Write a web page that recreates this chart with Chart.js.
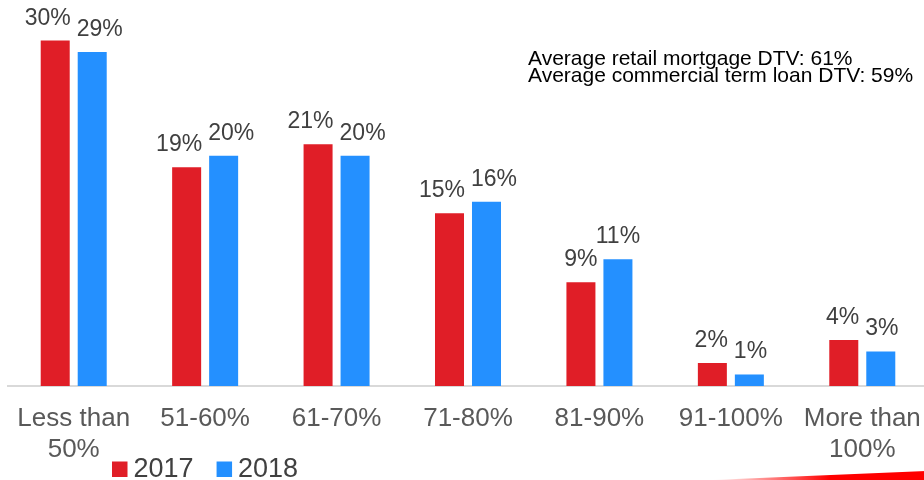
<!DOCTYPE html>
<html>
<head>
<meta charset="utf-8">
<title>DTV distribution</title>
<script src="https://cdn.jsdelivr.net/npm/chart.js@4/dist/chart.umd.min.js"></script>
<style>
  html, body { margin: 0; padding: 0; background: #fff; overflow: hidden; }
  #wrap { position: relative; width: 930px; height: 480px; }
</style>
</head>
<body>
<div id="wrap"><canvas id="dtvChart" width="930" height="480"></canvas></div>
<script>
// DTV buckets and share of the book per year
const categories = [['Less than', '50%'], '51-60%', '61-70%', '71-80%', '81-90%', '91-100%', ['More than', '100%']];
const seriesNames = ['2017', '2018'];
const values2017 = [30, 19, 21, 15, 9, 2, 4];
const values2018 = [29, 20, 20, 16, 11, 1, 3];
const noteLines = ['Average retail mortgage DTV: 61%', 'Average commercial term loan DTV: 59%'];

const FONT = '"Liberation Sans", Arial, Helvetica, sans-serif';
const RED = '#E01E27';
const BLUE = '#2490FF';

// value labels above each bar, nudged apart when the pair would collide
const barLabels = {
    id: 'barLabels',
    afterDatasetsDraw(chart, args, opts) {
        const ctx = chart.ctx;
        ctx.save();
        ctx.font = opts.size + 'px ' + FONT;
        ctx.fillStyle = opts.color;
        ctx.textAlign = 'center';
        ctx.textBaseline = 'alphabetic';
        const metas = chart.data.datasets.map((d, i) => chart.getDatasetMeta(i));
        chart.data.labels.forEach((label, idx) => {
            const items = metas.map((meta, di) => {
                const bar = meta.data[idx];
                const text = chart.data.datasets[di].data[idx] + '%';
                return { text, x: bar.x, y: bar.y - opts.offset, w: ctx.measureText(text).width };
            });
            const [a, b] = items;
            const need = (a.w + b.w) / 2 + opts.gap;
            const overlapV = Math.abs(a.y - b.y) < opts.textHeight;
            if (b.x - a.x < need && overlapV) {
                const push = (need - (b.x - a.x)) / 2;
                a.x -= push;
                b.x += push;
            }
            items.forEach(it => ctx.fillText(it.text, it.x, it.y));
        });
        ctx.restore();
    }
};

// square swatch legend placed under the first categories
const swatchLegend = {
    id: 'swatchLegend',
    afterDraw(chart, args, opts) {
        const ctx = chart.ctx;
        ctx.save();
        ctx.font = opts.size + 'px ' + FONT;
        ctx.textBaseline = 'alphabetic';
        ctx.textAlign = 'left';
        let x = opts.x;
        chart.data.datasets.forEach(ds => {
            ctx.fillStyle = ds.backgroundColor;
            ctx.fillRect(x, opts.y - opts.box, opts.box, opts.box);
            x += opts.box + opts.textGap;
            ctx.fillStyle = opts.color;
            ctx.fillText(ds.label, x, opts.y);
            x += ctx.measureText(ds.label).width + opts.itemGap;
        });
        ctx.restore();
    }
};

// average DTV note in the upper right, plus the red swoosh in the corner
const extras = {
    id: 'extras',
    afterDraw(chart, args, opts) {
        const ctx = chart.ctx;
        ctx.save();
        ctx.font = opts.noteSize + 'px ' + FONT;
        ctx.fillStyle = '#000';
        ctx.textAlign = 'left';
        ctx.textBaseline = 'alphabetic';
        noteLines.forEach((line, i) => {
            ctx.fillText(line, opts.noteX, opts.noteY + i * opts.noteLead);
        });

        const h = chart.height;
        const grad = ctx.createLinearGradient(712, 0, 830, 0);
        grad.addColorStop(0, 'rgba(255, 0, 0, 0)');
        grad.addColorStop(1, 'rgba(255, 0, 0, 1)');
        ctx.fillStyle = grad;
        ctx.beginPath();
        ctx.moveTo(712, h);
        ctx.lineTo(926, h - 9);
        ctx.lineTo(926, h);
        ctx.closePath();
        ctx.fill();
        ctx.restore();
    }
};

const ctx = document.getElementById('dtvChart').getContext('2d');
new Chart(ctx, {
    type: 'bar',
    data: {
        labels: categories,
        datasets: [
            { label: seriesNames[0], data: values2017, backgroundColor: RED },
            { label: seriesNames[1], data: values2018, backgroundColor: BLUE }
        ]
    },
    options: {
        responsive: false,
        animation: false,
        layout: { padding: { left: 8, right: 2, top: 6, bottom: 0 } },
        datasets: {
            bar: { categoryPercentage: 0.563, barPercentage: 0.784 }
        },
        scales: {
            x: {
                grid: { display: false, drawTicks: false },
                border: { color: '#d9d9d9', width: 2 },
                ticks: {
                    color: '#595959',
                    padding: 17,
                    maxRotation: 0,
                    autoSkip: false,
                    font: { family: FONT, size: 26, lineHeight: 1.2 }
                },
                afterFit(scale) {
                    scale.height = 94;
                    // the wrapped end labels fit inside their own category
                    scale.paddingLeft = 0;
                    scale.paddingRight = 0;
                }
            },
            y: {
                display: false,
                min: 0,
                max: 33
            }
        },
        plugins: {
            legend: { display: false },
            tooltip: { enabled: false },
            barLabels: { size: 23, color: '#404040', offset: 16, gap: 6, textHeight: 16 },
            swatchLegend: { x: 112, y: 477, box: 15.5, textGap: 6, itemGap: 23, size: 27, color: '#404040' },
            extras: { noteX: 528, noteY: 65, noteLead: 17, noteSize: 21 }
        }
    },
    plugins: [barLabels, swatchLegend, extras]
});
</script>
</body>
</html>
